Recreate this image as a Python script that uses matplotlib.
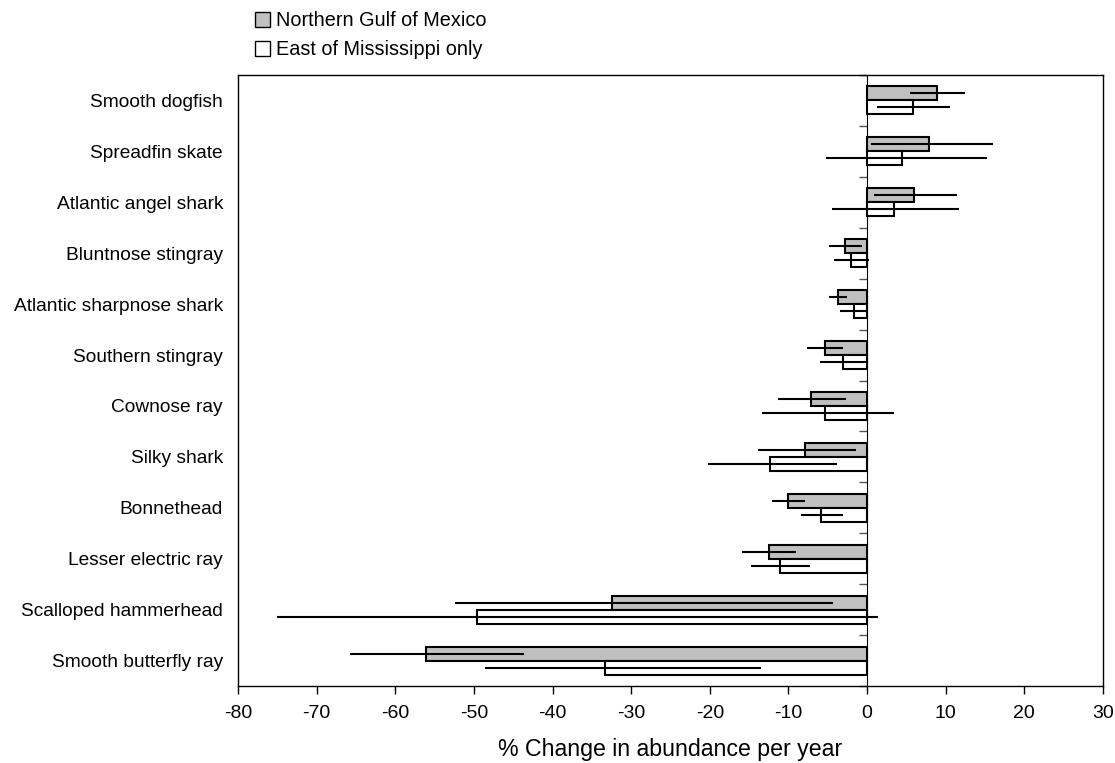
import numpy as np
import matplotlib.pyplot as plt
from matplotlib.patches import Patch

plt.rcParams['font.family'] = ['Liberation Sans', 'DejaVu Sans']

species = ["Smooth dogfish", "Spreadfin skate", "Atlantic angel shark",
           "Bluntnose stingray", "Atlantic sharpnose shark", "Southern stingray",
           "Cownose ray", "Silky shark", "Bonnethead", "Lesser electric ray",
           "Scalloped hammerhead", "Smooth butterfly ray"]

# Northern Gulf of Mexico
gulf = [8.9, 7.9, 6.0, -2.8, -3.7, -5.4, -7.1, -7.9, -10.0, -12.5, -32.5, -56.1]
gulf_lo = [5.4, 0.5, 0.9, -4.9, -4.9, -7.6, -11.3, -13.9, -12.1, -15.9, -52.4, -65.8]
gulf_hi = [12.5, 16.0, 11.4, -0.7, -2.6, -3.1, -2.7, -1.4, -7.9, -9.0, -4.3, -43.6]

# East of Mississippi only
east = [5.8, 4.5, 3.4, -2.0, -1.6, -3.1, -5.3, -12.3, -5.8, -11.1, -49.6, -33.3]
east_lo = [1.2, -5.2, -4.4, -4.2, -3.5, -6.0, -13.4, -20.2, -8.4, -14.8, -75.0, -48.6]
east_hi = [10.6, 15.3, 11.7, 0.3, 0.1, -0.2, 3.4, -3.8, -3.1, -7.2, 1.4, -13.5]

x_ticks = list(range(-80, 31, 10))

fig = plt.figure(figsize=(11.15, 7.63), dpi=100)
ax = fig.add_axes([0.2135, 0.1009, 0.7757, 0.8008])

y = np.arange(len(species))
h = 0.275
g = np.array(gulf)
e = np.array(east)
g_err = [g - np.array(gulf_lo), np.array(gulf_hi) - g]
e_err = [e - np.array(east_lo), np.array(east_hi) - e]
ekw = dict(ecolor="black", elinewidth=1.5, capsize=0)

ax.barh(y - h / 2, g, height=h, color="#c0c0c0", edgecolor="black",
        linewidth=1.5, xerr=g_err, error_kw=ekw, zorder=2)
ax.barh(y + h / 2, e, height=h, color="white", edgecolor="black",
        linewidth=1.5, xerr=e_err, error_kw=ekw, zorder=2)

ax.set_xlim(-80, 30)
ax.set_ylim(len(species) - 0.5, -0.5)
ax.set_xticks(x_ticks)
ax.set_xticklabels([str(t) for t in x_ticks], fontsize=14)
ax.tick_params(axis="x", direction="out", length=6, width=1, pad=8)
ax.set_yticks(y)
ax.set_yticklabels(species, fontsize=13.8)
ax.tick_params(axis="y", length=0, pad=10.8)
ax.set_xlabel("% Change in abundance per year", fontsize=16.7, labelpad=11)

for s in ax.spines.values():
    s.set_linewidth(1)
    s.set_color("black")

# category axis crossing at zero
sec = ax.secondary_yaxis(80 / 110)
sec.set_yticks(np.arange(len(species) + 1) - 0.5)
sec.yaxis.set_ticks_position("left")
sec.tick_params(axis="y", direction="out", length=6, width=1,
                labelleft=False, labelright=False, color="#555555")
sec.spines["left"].set_linewidth(1.5)

handles = [Patch(facecolor="#c0c0c0", edgecolor="black", linewidth=1),
           Patch(facecolor="white", edgecolor="black", linewidth=1)]
fig.legend(handles, ["Northern Gulf of Mexico", "East of Mississippi only"],
           loc="upper left", bbox_to_anchor=(0.2197, 0.998), frameon=False,
           fontsize=14.3, handlelength=0.75, handleheight=0.75,
           handletextpad=0.3, labelspacing=0.5, borderpad=0)

fig.savefig("out.png", dpi=100)
